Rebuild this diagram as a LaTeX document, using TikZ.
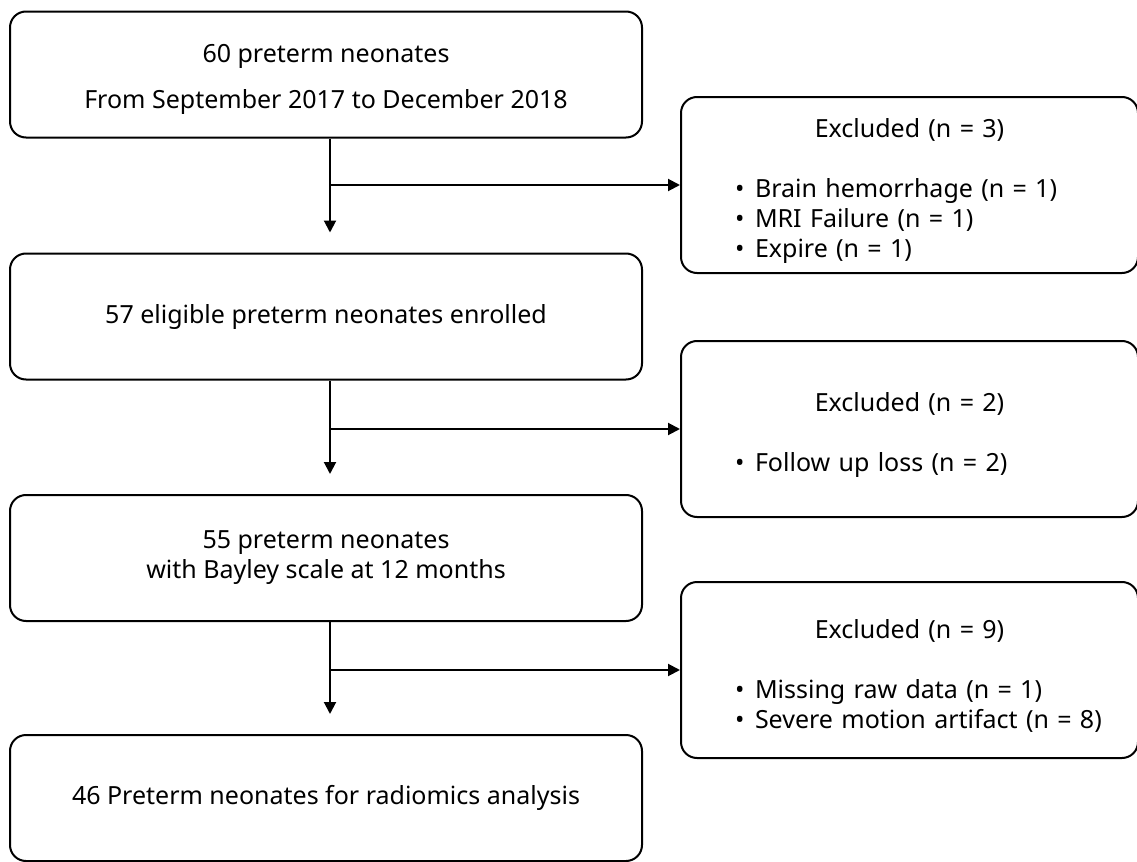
\documentclass[tikz,border=0pt]{standalone}
\usepackage{fontspec}
\setmainfont{Noto Sans}
\usetikzlibrary{arrows.meta}

\newcommand{\exitem}[1]{\makebox[10pt][l]{\textbullet}#1\par}

\begin{document}
\begin{tikzpicture}[x=0.5pt, y=-0.5pt,
   font=\fontsize{12.5}{15}\selectfont,
   line width=1pt,
   stagebox/.style={draw, rounded corners=8pt, minimum width=316pt, minimum height=63pt,
                    inner sep=0pt, align=center},
   exbox/.style={draw, rounded corners=8pt, minimum width=228.5pt, minimum height=88pt,
                 inner sep=0pt, text width=228.5pt},
   arr/.style={-{Triangle[length=6pt,width=6pt]}}]

\useasboundingbox (0,0) rectangle (1137,862);

\node[stagebox] (b1) at (326,74.5) {\rule{0pt}{14pt}60 preterm neonates\\[8pt]From September 2017 to December 2018};
\node[stagebox] (b2) at (326,316.5) {57 eligible preterm neonates enrolled};
\node[stagebox] (b3) at (326,558) {55 preterm neonates\\with Bayley scale at 12 months};
\node[stagebox] (b4) at (326,798) {46 Preterm neonates for radiomics analysis};

\node[exbox] (r1) at (909.5,185) {\centering\rule{0pt}{15pt}Excluded (n = 3)\par
   \raggedright\leftskip=27pt\vspace{15pt}
   \exitem{Brain hemorrhage (n = 1)}
   \exitem{MRI Failure (n = 1)}
   \exitem{Expire (n = 1)}};
\node[exbox] (r2) at (909.5,429) {\centering\rule{0pt}{15pt}Excluded (n = 2)\par
   \raggedright\leftskip=27pt\vspace{15pt}
   \exitem{Follow up loss (n = 2)}};
\node[exbox] (r3) at (909.5,670) {\centering\rule{0pt}{15pt}Excluded (n = 9)\par
   \raggedright\leftskip=27pt\vspace{15pt}
   \exitem{Missing raw data (n = 1)}
   \exitem{Severe motion artifact (n = 8)}};

% stems run a little right of the box centres
\coordinate (s1) at ([xshift=2pt]b1.south);
\coordinate (s2) at ([xshift=2pt]b2.south);
\coordinate (s3) at ([xshift=2pt]b3.south);
\coordinate (t1) at ([xshift=2pt,yshift=10pt]b2.north);
\coordinate (t2) at ([xshift=2pt,yshift=10pt]b3.north);
\coordinate (t3) at ([xshift=2pt,yshift=10pt]b4.north);

\draw[arr] (s1) -- (t1);
\draw[arr] (s1 |- r1.west) -- (r1.west);
\draw[arr] (s2) -- (t2);
\draw[arr] (s2 |- r2.west) -- (r2.west);
\draw[arr] (s3) -- (t3);
\draw[arr] (s3 |- r3.west) -- (r3.west);

\end{tikzpicture}
\end{document}
